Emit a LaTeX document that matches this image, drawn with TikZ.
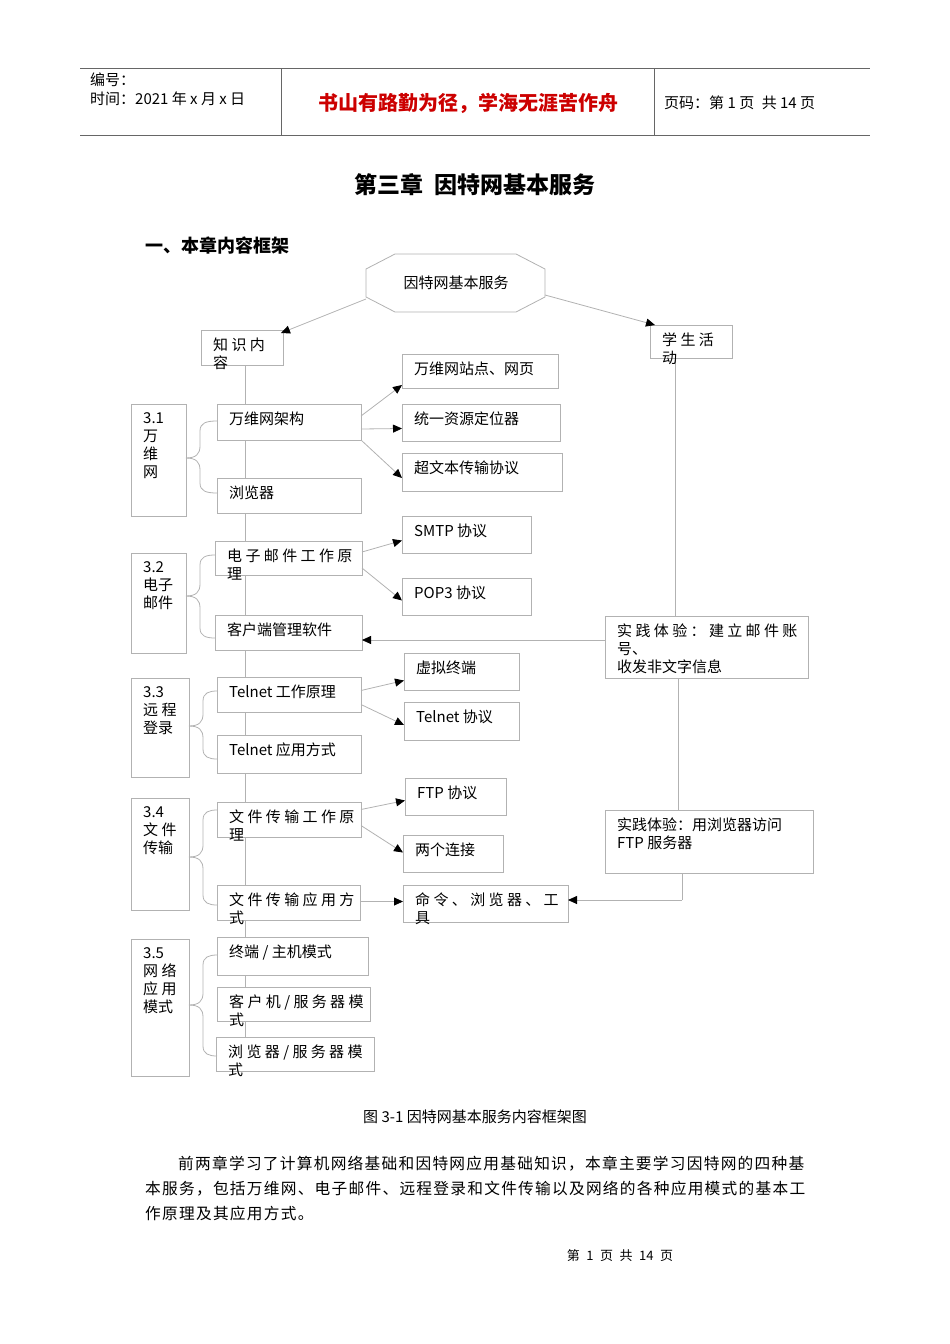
\documentclass[tikz,border=0pt]{standalone}
\usepackage{fontspec}
\setmainfont{Noto Sans CJK SC}
\newfontfamily\parafont[LetterSpace=8]{Noto Sans CJK SC}
\usetikzlibrary{arrows.meta}
\newcommand\bx[6]{%
  \node[bx,minimum width={(#4-#2)*1pt},minimum height={(#5-#3)*1pt},anchor=north west] (#1) at (#2,#3) {};
  \node[txt,anchor=north west] (#1t) at (#2+12,#3+8) {#6};}
\newcommand\brc[5]{% xL ymid ytop ybot xR
  \draw[ln] (#1,#2) .. controls (#1+10,#2) and (#1+14,#2-4) .. (#1+14,#2-12) -- (#1+14,#3+10) .. controls (#1+14,#3+2) and (#1+20,#3) .. (#5,#3);
  \draw[ln] (#1,#2) .. controls (#1+10,#2) and (#1+14,#2+4) .. (#1+14,#2+12) -- (#1+14,#4-10) .. controls (#1+14,#4-2) and (#1+20,#4) .. (#5,#4);}
\tikzset{
  bx/.style={draw=gray!60,fill=white,inner sep=0pt,outer sep=0pt,line width=0.8pt},
  txt/.style={inner sep=0pt,align=left,font=\fontsize{15}{18}\selectfont},
  ln/.style={draw=gray!60,line width=0.8pt},
  arr/.style={ln,-{Triangle[length=9pt,width=8pt,fill=black,color=black]}},
}
\begin{document}
\begin{tikzpicture}[x=1pt,y=-1pt]
\useasboundingbox (0,0) rectangle (950,1344);
% header
\draw[gray!80!black,line width=0.8pt] (80,68) -- (870,68) (80,135) -- (870,135) (281,68) -- (281,135) (654,68) -- (654,135);
\node[txt,anchor=west] (h1) at (90,80) {编号：};
\node[txt,anchor=west] (h2) at (90,99) {时间：2021 年 x 月 x 日};
\node[txt,anchor=center,text=red!80!black,font=\fontsize{20}{22}\selectfont\bfseries] (h3) at (468,103) {书山有路勤为径，学海无涯苦作舟};
\node[txt,anchor=west] (h4) at (664,103) {页码：第 1 页\enspace 共 14 页};
\node[txt,font=\fontsize{23}{26}\selectfont\bfseries] (title) at (475,185) {第三章\enspace 因特网基本服务};
\node[txt,anchor=west,font=\fontsize{18}{20}\selectfont\bfseries] (sec) at (145,246) {一、本章内容框架};
% trunk lines
\draw[ln] (245,365) -- (245,1040);
\draw[ln] (675,358) -- (675,616);
\draw[ln] (678,678) -- (678,810);
% top octagon
\coordinate (topc) at (456,283);
\draw[ln,fill=white] (395,254) -- (516,254) -- (545,269) -- (545,297) -- (516,312) -- (395,312) -- (366,297) -- (366,269) -- cycle;
\node[txt] (top) at (topc) {因特网基本服务};
\coordinate (topw) at (366,299);
\coordinate (tope) at (545,295);
\bx{zs}{201}{330}{283}{365}{知 识 内\\容}
\bx{xs}{650}{325}{732}{358}{学 生 活\\动}
\draw[arr] (topw) -- ([xshift=-2pt,yshift=-3pt]zs.north east);
\draw[arr] (tope) -- ([xshift=5pt]xs.north west);
% 3.1
\bx{s1}{131}{404}{186}{516}{3.1\\万\\维\\网}
\bx{wwjg}{217}{404}{361}{440}{万维网架构}
\bx{llq}{217}{478}{361}{513}{浏览器}
\bx{zd}{402}{354}{558}{388}{万维网站点、网页}
\bx{url}{402}{404}{560}{441}{统一资源定位器}
\bx{http}{402}{453}{562}{491}{超文本传输协议}
\brc{186}{458}{421}{493}{217}
\draw[arr] ([yshift=6pt]wwjg.east) -- ([yshift=-14pt]zd.west);
\draw[arr] ([yshift=-7pt]wwjg.east) -- ([yshift=-6pt]url.west);
\draw[arr] ([yshift=-18pt]wwjg.east) -- ([yshift=-6pt]http.west);
% 3.2
\bx{s2}{131}{553}{186}{653}{3.2\\电子\\邮件}
\bx{dz}{215}{541}{362}{575}{电 子 邮 件 工 作 原\\理}
\bx{kh}{215}{615}{362}{650}{客户端管理软件}
\bx{smtp}{402}{516}{531}{553}{SMTP 协议}
\bx{pop}{402}{578}{531}{615}{POP3 协议}
\bx{sj1}{605}{616}{808}{678}{实 践 体 验 ： 建 立 邮 件 账\\号、\\收发非文字信息}
\brc{186}{596}{555}{638}{215}
\draw[arr] ([yshift=6pt]dz.east) -- ([yshift=-6pt]smtp.west);
\draw[arr] ([yshift=-10pt]dz.east) -- ([yshift=-4pt]pop.west);
\draw[arr] ([yshift=7pt]sj1.west) -- ([yshift=7pt]sj1.west -| kh.east);
% 3.3
\bx{s3}{131}{678}{189}{777}{3.3\\远 程\\登录}
\bx{tw}{217}{677}{361}{712}{Telnet 工作原理}
\bx{ty}{217}{735}{361}{773}{Telnet 应用方式}
\bx{xn}{404}{653}{519}{690}{虚拟终端}
\bx{tp}{404}{702}{519}{740}{Telnet 协议}
\brc{189}{726}{691}{759}{217}
\draw[arr] ([yshift=4pt]tw.east) -- ([yshift=-9pt]xn.west);
\draw[arr] ([yshift=-10pt]tw.east) -- ([yshift=-4pt]tp.west);
% 3.4
\bx{s4}{131}{798}{189}{910}{3.4\\文 件\\传输}
\bx{wj}{217}{802}{361}{837}{文 件 传 输 工 作 原\\理}
\bx{wy}{217}{885}{360}{920}{文 件 传 输 应 用 方\\式}
\bx{ftp}{405}{778}{506}{815}{FTP 协议}
\bx{lg}{403}{835}{503}{872}{两个连接}
\bx{ml}{403}{885}{568}{922}{命 令 、 浏 览 器 、 工\\具}
\bx{sj2}{605}{810}{813}{873}{实践体验：用浏览器访问\\FTP 服务器}
\brc{189}{857}{810}{905}{217}
\draw[arr] ([yshift=10pt]wj.east) -- ([yshift=-4pt]ftp.west);
\draw[arr] ([yshift=-6pt]wj.east) -- ([yshift=1pt]lg.west);
\draw[arr] ([yshift=1pt]wy.east) -- ([yshift=1pt]wy.east -| ml.west);
\coordinate (sj2b) at (682,873);
\coordinate (sj2c) at (682,900);
\draw[ln] (sj2b) -- (sj2c);
\draw[arr] (sj2c) -- (sj2c -| ml.east);
% 3.5
\bx{s5}{131}{939}{189}{1076}{3.5\\网 络\\应 用\\模式}
\bx{zj}{217}{937}{368}{975}{终端 / 主机模式}
\bx{cs}{217}{987}{370}{1021}{客 户 机 / 服 务 器 模\\式}
\bx{bs}{216}{1037}{374}{1071}{浏 览 器 / 服 务 器 模\\式}
\brc{189}{1005}{955}{1056}{217}
% caption and text
\node[txt] (cap) at (475,1117) {图 3-1 因特网基本服务内容框架图};
\node[txt,anchor=north west,font=\parafont\fontsize{15.7}{25}\selectfont] (para) at (145,1156) {\hspace*{33pt}前两章学习了计算机网络基础和因特网应用基础知识，本章主要学习因特网的四种基\\本服务，包括万维网、电子邮件、远程登录和文件传输以及网络的各种应用模式的基本工\\作原理及其应用方式。};
\node[txt,font=\fontsize{13}{14}\selectfont] (foot) at (620,1256) {第\enspace 1\enspace 页\enspace 共\enspace 14\enspace 页};
\end{tikzpicture}
\end{document}
